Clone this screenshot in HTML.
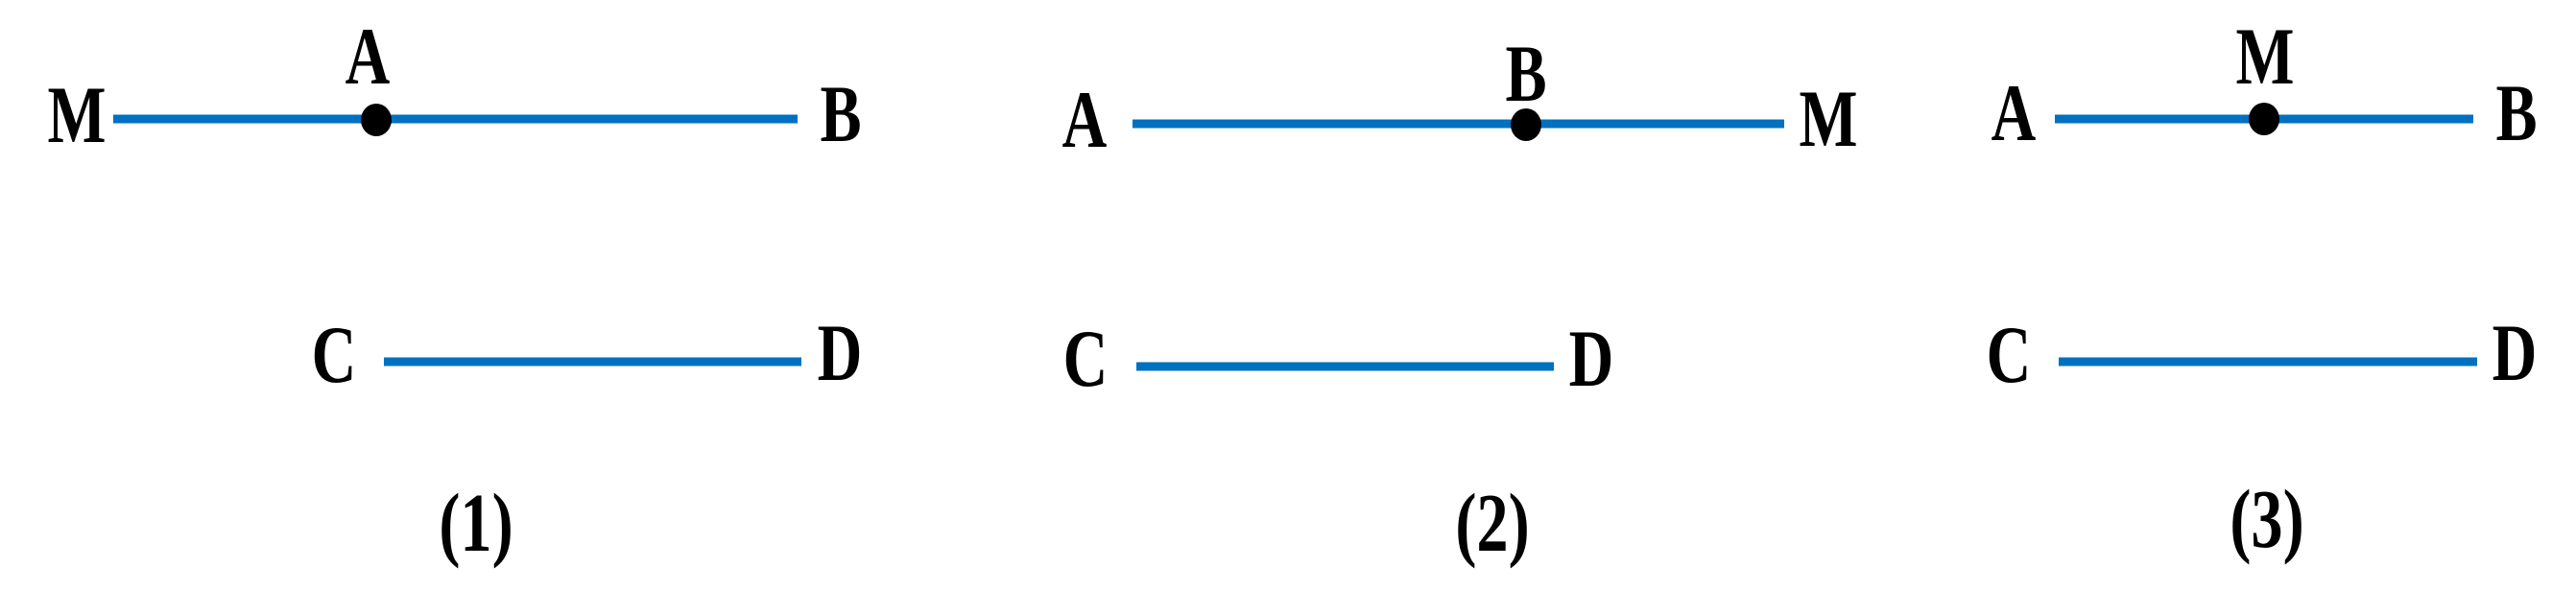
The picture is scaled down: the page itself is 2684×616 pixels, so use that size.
<!DOCTYPE html>
<html><head><meta charset="utf-8"><style>
html,body{margin:0;padding:0;background:#fff;}
svg{display:block;}
text{font-family:"Liberation Serif","Times New Roman",serif;font-weight:bold;fill:#000;}
</style></head>
<body>
<svg id="fig" width="2684" height="616" viewBox="0 0 2684 616" xmlns="http://www.w3.org/2000/svg">
<g id="marks"></g>
</svg>
<script>
// segments: [x1, x2, y] per panel
const segStart = [118, 400, 1180, 1184, 2141, 2145];
const segEnd   = [831, 835, 1859, 1619, 2577, 2581];
const segY     = [124, 377, 129, 382, 124, 377];
const segNames = ['segment-mb','segment-cd-1','segment-am','segment-cd-2','segment-ab','segment-cd-3'];
// points
const ptX = [392, 1590, 2359];
const ptY = [125, 130, 124];
const ptNames = ['point-a-1','point-b-2','point-m-3'];
// labels: text, center x, baseline y
const labelText = ['M','A','B','C','D','(1)','A','B','M','C','D','(2)','A','M','B','C','D','(3)'];
const labelX = [80,383,876,348,875,496, 1130,1590,1905,1131,1658,1555, 2098,2360,2622,2093,2620,2362];
const labelY = [148,87,147,398,396,574, 153,105,152,402,402,574, 146,87,146,398,396,570];
const labelNames = ['label-m-1','label-a-1','label-b-1','label-c-1','label-d-1','caption-1',
 'label-a-2','label-b-2','label-m-2','label-c-2','label-d-2','caption-2',
 'label-a-3','label-m-3','label-b-3','label-c-3','label-d-3','caption-3'];

const NS='http://www.w3.org/2000/svg';
const g=document.getElementById('marks');
for(let i=0;i<segStart.length;i++){
  const l=document.createElementNS(NS,'line');
  l.setAttribute('x1',segStart[i]);l.setAttribute('x2',segEnd[i]);
  l.setAttribute('y1',segY[i]);l.setAttribute('y2',segY[i]);
  l.setAttribute('stroke','#0070c0');l.setAttribute('stroke-width','9');
  
  
  g.appendChild(l);
}
for(let i=0;i<ptX.length;i++){
  const c=document.createElementNS(NS,'ellipse');
  c.setAttribute('cx',ptX[i]);c.setAttribute('cy',ptY[i]);
  c.setAttribute('rx',16);c.setAttribute('ry',17);c.setAttribute('fill','#000');
  
  
  g.appendChild(c);
}
for(let i=0;i<labelText.length;i++){
  const t=document.createElementNS(NS,'text');
  t.setAttribute('x',0);t.setAttribute('y',0);
  t.setAttribute('text-anchor','middle');
  t.setAttribute('font-size', labelText[i].length>1 ? 78 : 76);
  t.setAttribute('transform','translate('+labelX[i]+','+labelY[i]+') scale(0.85,1.12)');
  t.textContent=labelText[i];
  
  
  g.appendChild(t);
}
</script>
</body></html>
